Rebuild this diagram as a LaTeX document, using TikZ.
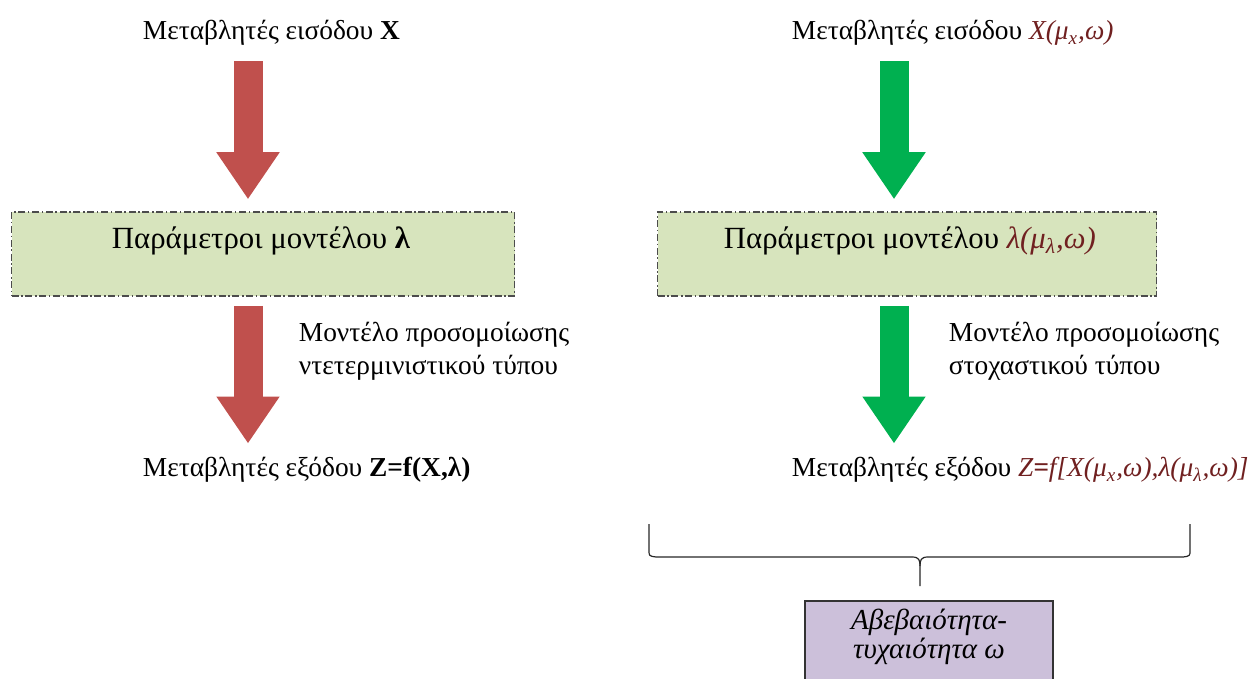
\documentclass[tikz,border=0pt]{standalone}
\usepackage{fontspec}
\setmainfont{Liberation Serif}
\usetikzlibrary{arrows.meta,positioning}

\definecolor{arrowred}{RGB}{192,80,77}
\definecolor{arrowgreen}{RGB}{0,176,80}
\definecolor{parfill}{RGB}{215,228,189}
\definecolor{uncfill}{RGB}{204,192,218}
\definecolor{formred}{RGB}{112,32,32}

\tikzset{
  fatarrow/.style={line width=14.5pt, -{Triangle[width=30pt,length=23.5pt]}},
  vartext/.style={inner sep=0.75pt, anchor=west, font=\fontsize{13.7}{15}\selectfont},
  partext/.style={inner sep=0.75pt, anchor=west, font=\fontsize{15.4}{18}\selectfont},
  modtext/.style={inner sep=0.75pt, anchor=north west, align=left, font=\fontsize{13.7}{16.5}\selectfont},
  parbox/.style={draw=black!70, fill=parfill, line width=0.75pt,
    dash pattern=on 3.5pt off 1.3pt on 0.8pt off 1.3pt,
    minimum height=42pt, inner sep=0pt},
  uncbox/.style={draw=black!80, fill=uncfill, line width=0.6pt,
    minimum width=124pt, minimum height=50pt, inner sep=0pt},
  unctext/.style={inner sep=0.75pt, align=center, font=\fontsize{14.5}{13.2}\selectfont\itshape},
  brace/.style={draw=black!85, line width=0.6pt}
}
\newcommand{\frm}[1]{\textcolor{formred}{\textit{#1}}}

\begin{document}
\begin{tikzpicture}[x=0.5pt,y=-0.5pt]
        \useasboundingbox (0,0) rectangle (1252,679);
        \clip (0,0) rectangle (1252,679);

        % Deterministic side
        \node[vartext] (inL) at (141,33) {Μεταβλητές εισόδου \textbf{X}};
        \node[parbox, minimum width=251.5pt] (parL) at (263,254) {};
        \node[partext] (parLt) at (110,241) {Παράμετροι μοντέλου \textbf{λ}};
        \node[vartext] (outL) at (141,470) {Μεταβλητές εξόδου \textbf{Z=f(X,λ)}};
        \node[modtext] (modL) at (297,320) {Μοντέλο προσομοίωσης\\ντετερμινιστικού τύπου};
        \coordinate (colL) at (248,0);

        % Stochastic side
        \node[vartext] (inR) at (790,33) {Μεταβλητές εισόδου \frm{X(μ\textsubscript{x},ω)}};
        \node[parbox, minimum width=249.5pt] (parR) at (907,254) {};
        \node[partext] (parRt) at (722,241) {Παράμετροι μοντέλου \frm{λ(μ\textsubscript{λ},ω)}};
        \node[vartext] (outR) at (790,470) {Μεταβλητές εξόδου \frm{Z\textbf{=}f[X(μ\textsubscript{x},ω),λ(μ\textsubscript{λ},ω)]}};
        \node[modtext] (modR) at (947,320) {Μοντέλο προσομοίωσης\\στοχαστικού τύπου};
        \coordinate (colR) at (894,0);

        % Block arrows
        \draw[fatarrow, arrowred, shorten <=7pt, shorten >=6pt] (inL.south -| colL) -- (parL.north -| colL);
        \draw[fatarrow, arrowred, shorten <=4.5pt, shorten >=6pt] (parL.south -| colL) -- (outL.north -| colL);
        \draw[fatarrow, arrowgreen, shorten <=7pt, shorten >=6pt] (inR.south -| colR) -- (parR.north -| colR);
        \draw[fatarrow, arrowgreen, shorten <=4.5pt, shorten >=6pt] (parR.south -| colR) -- (outR.north -| colR);

        % Brace
        \coordinate (brL) at (649,524);
        \coordinate (brR) at (1190,524);
        \coordinate (brM) at (920,586);
        \draw[brace] (brL) -- (649,550) .. controls (649,556) .. (656,557) -- (912,557) .. controls (919,557) and (920,560) .. (920,566) -- (brM);
        \draw[brace] (brR) -- (1190,550) .. controls (1190,556) .. (1183,557) -- (928,557) .. controls (921,557) and (920,560) .. (920,566);

        % Uncertainty box
        \node[uncbox] (unc) at (929,651) {};
        \node[unctext] (unct) at (929,637) {Αβεβαιότητα-\\τυχαιότητα ω};
\end{tikzpicture}
\end{document}
